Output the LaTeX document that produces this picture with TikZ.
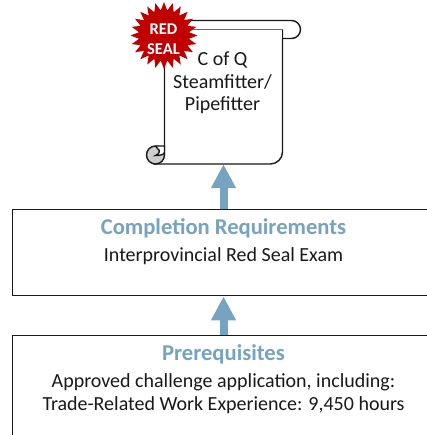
\documentclass[tikz,border=0pt]{standalone}
\usepackage{fontspec}
\setmainfont{Carlito}
\usetikzlibrary{arrows.meta,shapes.geometric}
\definecolor{flowblue}{HTML}{76A3BF}
\definecolor{sealred}{HTML}{C00000}
\definecolor{curlgray}{HTML}{CDCDCD}
\tikzset{
  frame/.style={draw=black!90,line width=1.4pt},
  openbox/.style={frame,fill=white,anchor=north west,inner sep=0pt,minimum width=440pt},
  flow/.style={draw=flowblue,line width=8pt,-{Triangle[length=24pt,width=23.5pt]}},
  body/.style={font=\fontsize{20}{22.7}\selectfont,align=center,text=black!90,inner sep=0pt},
  heading/.style={font=\fontsize{22.6}{26}\selectfont\bfseries,text=flowblue,inner sep=0pt},
  seal/.style={star,star points=24,star point ratio=1.33,minimum size=67pt,fill=sealred,inner sep=0pt},
  sealtext/.style={font=\fontsize{16.5}{19.5}\selectfont\bfseries,text=white,align=center,inner sep=0pt},
}
\begin{document}
\begin{tikzpicture}[x=1pt,y=-1pt]
\useasboundingbox (0,0) rectangle (426,435);
% boxes
\node[openbox,minimum height=86pt] (req) at (11.5,209) {};
\node[openbox,minimum height=120pt] (pre) at (11.5,335) {};
% scroll
\draw[frame,fill=white]
  (168,20.5) -- (291.5,20.5) .. controls (296.5,20.5) and (300.5,24.5) .. (300.5,29.5)
  .. controls (300.5,34.5) and (296.5,38.5) .. (291.5,38.5) -- (168,38.5) -- cycle;
\draw[frame,fill=white]
  (164.5,30) -- (164.5,155) -- (155,164) -- (270.5,164)
  .. controls (277,164) and (282.5,158.5) .. (282.5,152) -- (282.5,30) -- cycle;
\draw[draw=none,fill=white] (165.2,30) rectangle (281.8,37.8);
\draw[frame] (164.5,30) -- (164.5,155);
\draw[frame,fill=curlgray] (155.5,155) circle[radius=9];
\draw[frame,fill=white] (155.5,146) -- (164.5,146) -- (164.5,152)
  .. controls (164.5,154.5) and (161,155.5) .. (155.5,155.5)
  .. controls (160,154) and (160,150) .. (158,149) -- (155.5,146);
\node[minimum width=118pt,minimum height=126pt,inner sep=0pt] (scroll) at (223.5,101) {};
\node[body] (scrolltext) at (222.5,83) {C of Q\\Steamfitter/\\Pipefitter};
% seal
\node[seal] (sealstar) at (164,35.5) {};
\node[sealtext] (sealword) at (163.5,39) {RED\\SEAL};
% text
\node[heading] (reqtitle) at (223.5,228) {Completion Requirements};
\node[body] (reqtext) at (223.5,256) {Interprovincial Red Seal Exam};
\node[heading] (pretitle) at (223.5,354) {Prerequisites};
\node[body] (pretext) at (223.5,394) {Approved challenge application, including:\\Trade-Related Work Experience: 9,450 hours};
% arrows
\draw[flow] (scroll.south |- req.north) -- (scroll.south);
\draw[flow] (scroll.south |- pre.north) -- (scroll.south |- req.south);
\end{tikzpicture}
\end{document}
